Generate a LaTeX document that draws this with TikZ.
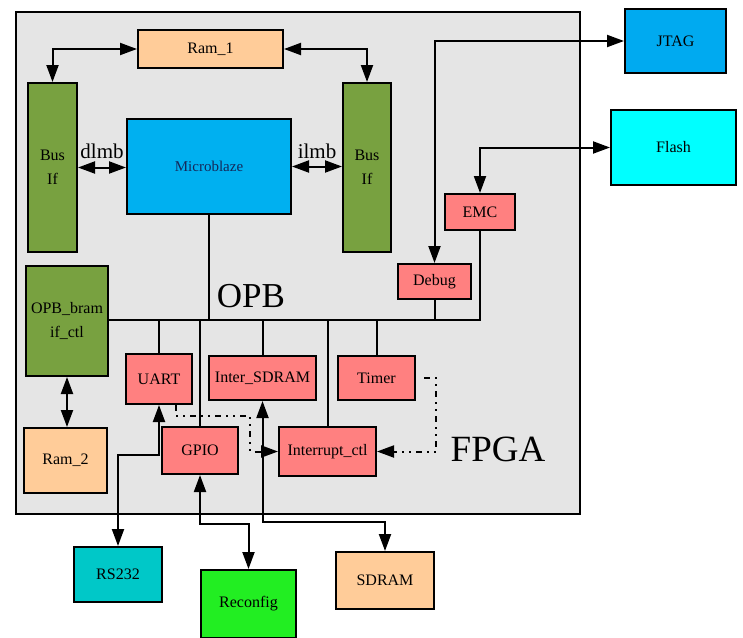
\documentclass[tikz,border=0pt]{standalone}
\usepackage{fontspec}
\setmainfont{Liberation Serif}
\usetikzlibrary{positioning,arrows.meta}
\definecolor{fpgagray}{RGB}{229,229,229}
\definecolor{ramcol}{RGB}{255,204,153}
\definecolor{buscol}{RGB}{120,161,64}
\definecolor{percol}{RGB}{255,128,128}
\definecolor{cpucol}{RGB}{0,176,240}
\definecolor{cputext}{RGB}{20,40,90}
\definecolor{jtagcol}{RGB}{0,170,240}
\definecolor{flashcol}{RGB}{0,255,255}
\definecolor{rscol}{RGB}{0,200,200}
\definecolor{recfgcol}{RGB}{34,238,34}
\tikzset{
    tip/.tip = {Triangle[length=17pt,width=12pt]},
    block/.style = {
        draw,
        shape=rectangle,
        line width=2pt,
        inner sep=0pt,
        align=center,
        font=\fontsize{16}{24}\selectfont
    },
    ram/.style = {
        block,
        fill=ramcol
    },
    busif/.style = {
        block,
        fill=buscol
    },
    periph/.style = {
        block,
        fill=percol
    },
    cpu/.style = {
        block,
        fill=cpucol,
        text=cputext,
        font=\fontsize{15}{18}\selectfont
    },
    wire/.style = {
        line width=2pt
    },
    link/.style = {
        wire,
        tip-tip
    },
    irq/.style = {
        line width=2pt,
        -tip,
        dash pattern=on 6pt off 5pt on 2pt off 5pt on 2pt off 5pt
    },
    lbl/.style = {
        inner sep=1pt,
        font=\fontsize{21}{24}\selectfont
    },
    biglbl/.style = {
        inner sep=0pt,
        font=\fontsize{37}{40}\selectfont
    },
}

\begin{document}
\begin{tikzpicture}[x=1pt, y=-1pt]
            \useasboundingbox (0,0) rectangle (743,637);

            \node[block, fill=fpgagray, minimum width=564, minimum height=502] (fpga) at (298,263) {};
            \node[biglbl] (fpgalbl) at (498,449) {FPGA};
            \node[biglbl, font=\fontsize{35}{38}\selectfont] (opblbl) at (251,296) {OPB};

            \node[ram, minimum width=145, minimum height=38] (ram1) at (210.5,49) {Ram\_1};
            \node[busif, minimum width=49, minimum height=169] (busl) at (52.5,167.5) {Bus\\If};
            \node[busif, minimum width=48, minimum height=169] (busr) at (367,167.5) {Bus\\If};
            \node[cpu, minimum width=164, minimum height=95] (mb) at (209,166.5) {Microblaze};

            \node[busif, minimum width=82, minimum height=110] (bram) at (67,321) {OPB\_bram\\if\_ctl};
            \node[ram, minimum width=83, minimum height=65] (ram2) at (65.5,460.5) {Ram\_2};

            \node[periph, minimum width=73, minimum height=35] (debug) at (434.5,281.5) {Debug};
            \node[periph, minimum width=70, minimum height=36] (emc) at (480,212) {EMC};
            \node[periph, minimum width=66, minimum height=50] (uart) at (159,379) {UART};
            \node[periph, minimum width=107, minimum height=44] (isdram) at (262.5,378) {Inter\_SDRAM};
            \node[periph, minimum width=77, minimum height=44] (timer) at (376.5,378) {Timer};
            \node[periph, minimum width=76, minimum height=47] (gpio) at (200,450.5) {GPIO};
            \node[periph, minimum width=97, minimum height=49] (intc) at (327.5,451.5) {Interrupt\_ctl};

            \node[block, fill=jtagcol, minimum width=101, minimum height=64] (jtag) at (675.5,41) {JTAG};
            \node[block, fill=flashcol, minimum width=125, minimum height=75] (flash) at (673.5,147.5) {Flash};
            \node[block, fill=rscol, minimum width=88, minimum height=55] (rs232) at (118,574.5) {RS232};
            \node[block, fill=recfgcol, minimum width=95, minimum height=68] (recfg) at (248.5,604) {Reconfig};
            \node[ram, minimum width=98, minimum height=57] (sdram) at (385,580.5) {SDRAM};

            % OPB bus
            \coordinate (opbw) at (bram.east |- 0,320);
            \coordinate (opbe) at (emc.south |- 0,320);
            \path[draw, wire] (opbw) -- (opbe) -- (emc.south);
            \path[draw, wire] (mb.south) -- (mb.south |- opbw);
            \path[draw, wire] (debug.south) -- (debug.south |- opbw);
            \path[draw, wire] (uart.north) -- (uart.north |- opbw);
            \path[draw, wire] (gpio.north) -- (gpio.north |- opbw);
            \path[draw, wire] (isdram.north) -- (isdram.north |- opbw);
            \path[draw, wire] (intc.north) -- (intc.north |- opbw);
            \path[draw, wire] (timer.north) -- (timer.north |- opbw);

            % local memory
            \path[draw, link] (ram1.west) -| (busl.north);
            \path[draw, link] (ram1.east) -| (busr.north);
            \path[draw, link] (busl.east) -- (busl.east -| mb.west) node [midway, above=7pt, lbl] {dlmb};
            \path[draw, link] (mb.east) -- (mb.east -| busr.west) node [midway, above=6pt, lbl] {ilmb};
            \path[draw, link] (bram.south) -- (bram.south |- ram2.north);

            % off-chip
            \path[draw, link] (jtag.west) -| (debug.north);
            \path[draw, link] (flash.west) -| (emc.north);
            \path[draw, link] (uart.south) -- ++(0,50) -| (rs232.north);
            \path[draw, link] (gpio.south) -- ++(0,49) -| (recfg.north);
            \path[draw, link] (isdram.south) -- ++(0,121) -| (sdram.north);

            % interrupts
            \path[draw, irq] ([xshift=17pt]uart.south) |- (250,416) |- (intc.west);
            \path[draw, irq] ([xshift=8pt]timer.east) -| (436,400) |- (intc.east);

        \end{tikzpicture}
\end{document}
